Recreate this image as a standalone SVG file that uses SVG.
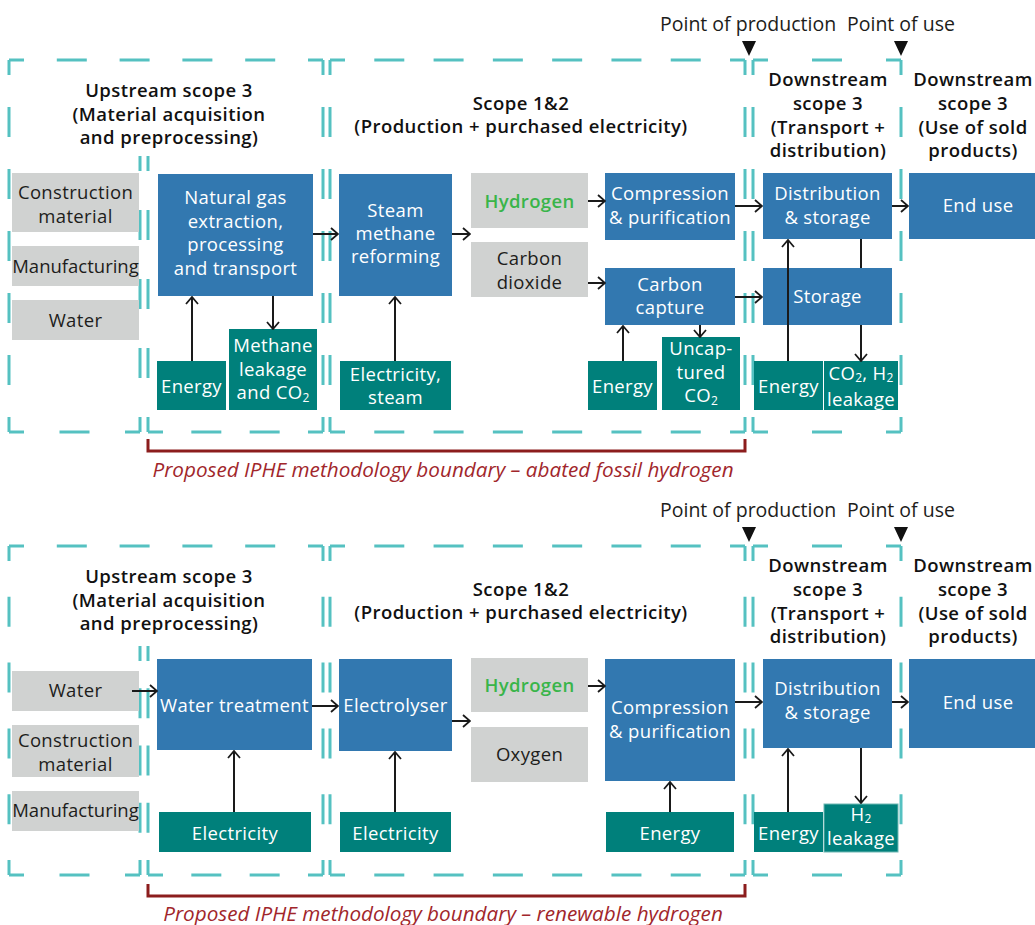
<svg xmlns="http://www.w3.org/2000/svg" width="1035" height="925" viewBox="0 0 1035 925">
<defs>
<style>
.bl{fill:#3278b0}
.tl{fill:#00807b}
.gr{fill:#d0d2d1}
.t{font-family:"Open Sans","Liberation Sans",sans-serif;font-size:18.5px;letter-spacing:0.35px;text-anchor:middle}
.m{letter-spacing:0px}
.w{fill:#ffffff}
.k{fill:#1d1d1b}
.h{font-family:"Open Sans","Liberation Sans",sans-serif;font-size:18.5px;letter-spacing:0.45px;font-weight:600;text-anchor:middle;fill:#111}
.hg{fill:#39b54a;font-weight:600}
.pt{font-family:"Open Sans","Liberation Sans",sans-serif;font-size:19.5px;fill:#1d1d1b}
.sub{font-size:12px;letter-spacing:0px}
.d{stroke:#55c1c1;stroke-width:3;fill:none;stroke-dashoffset:15}
.c{stroke:#1a1a1a;stroke-width:2;fill:none}
.ca{stroke:#1a1a1a;stroke-width:2;fill:none;marker-end:url(#ah)}
.br{stroke:#8c1d1d;stroke-width:3;fill:none}
.bt{font-family:"Open Sans","Liberation Sans",sans-serif;font-size:20.7px;font-style:italic;fill:#a1262b;text-anchor:middle}
</style>
<marker id="ah" viewBox="0 0 10 14" refX="9" refY="7" markerWidth="10" markerHeight="14" orient="auto" markerUnits="userSpaceOnUse">
<path d="M2,1 L9,7 L2,13" fill="none" stroke="#1a1a1a" stroke-width="1.8"/>
</marker>
</defs>
<rect width="1035" height="925" fill="#ffffff"/>

<!-- ===== Boundaries top ===== -->
<g id="boundaries-top">
<line class="d" x1="9" y1="60" x2="323" y2="60" stroke-dasharray="30 32.8"/>
<line class="d" x1="9" y1="60" x2="9" y2="432" stroke-dasharray="30 32"/>
<line class="d" x1="323" y1="60" x2="323" y2="432" stroke-dasharray="30 32"/>
<line class="d" x1="9" y1="432" x2="140" y2="432" stroke-dasharray="30 35.5"/>
<line class="d" x1="140" y1="156" x2="140" y2="432" stroke-dasharray="30 39"/>
<line class="d" x1="148" y1="156" x2="148" y2="432" stroke-dasharray="30 39"/>
<line class="d" x1="148" y1="432" x2="323" y2="432" stroke-dasharray="30 28.33"/>
<line class="d" x1="330" y1="60" x2="745" y2="60" stroke-dasharray="30 29.29"/>
<line class="d" x1="330" y1="60" x2="330" y2="432" stroke-dasharray="30 32"/>
<line class="d" x1="745" y1="60" x2="745" y2="432" stroke-dasharray="30 32"/>
<line class="d" x1="330" y1="432" x2="745" y2="432" stroke-dasharray="30 29.29"/>
<line class="d" x1="753" y1="60" x2="901" y2="60" stroke-dasharray="30 44"/>
<line class="d" x1="753" y1="60" x2="753" y2="432" stroke-dasharray="30 32"/>
<line class="d" x1="901" y1="60" x2="901" y2="432" stroke-dasharray="30 32"/>
<line class="d" x1="753" y1="432" x2="901" y2="432" stroke-dasharray="30 44"/>
</g>

<!-- ===== Boundaries bottom ===== -->
<g id="boundaries-bottom">
<line class="d" x1="9" y1="546" x2="323" y2="546" stroke-dasharray="30 32.8"/>
<line class="d" x1="9" y1="546" x2="9" y2="875" stroke-dasharray="30 35.8"/>
<line class="d" x1="323" y1="546" x2="323" y2="875" stroke-dasharray="30 35.8"/>
<line class="d" x1="9" y1="875" x2="140" y2="875" stroke-dasharray="30 35.5"/>
<line class="d" x1="140" y1="646" x2="140" y2="875" stroke-dasharray="30 27.25"/>
<line class="d" x1="148" y1="646" x2="148" y2="875" stroke-dasharray="30 27.25"/>
<line class="d" x1="148" y1="875" x2="323" y2="875" stroke-dasharray="30 28.33"/>
<line class="d" x1="330" y1="546" x2="745" y2="546" stroke-dasharray="30 29.29"/>
<line class="d" x1="330" y1="546" x2="330" y2="875" stroke-dasharray="30 35.8"/>
<line class="d" x1="745" y1="546" x2="745" y2="875" stroke-dasharray="30 35.8"/>
<line class="d" x1="330" y1="875" x2="745" y2="875" stroke-dasharray="30 29.29"/>
<line class="d" x1="753" y1="546" x2="901" y2="546" stroke-dasharray="30 44"/>
<line class="d" x1="753" y1="546" x2="753" y2="875" stroke-dasharray="30 35.8"/>
<line class="d" x1="901" y1="546" x2="901" y2="875" stroke-dasharray="30 35.8"/>
<line class="d" x1="753" y1="875" x2="901" y2="875" stroke-dasharray="30 44"/>
</g>

<!-- ===== Headers top ===== -->
<g id="headers-top">
<text class="pt" x="660" y="31">Point of production</text>
<text class="pt" x="847" y="31">Point of use</text>
<polygon points="742,41 756,41 749,56" fill="#111"/>
<polygon points="894,41 908,41 901,56" fill="#111"/>
<text class="h" x="169" y="97">Upstream scope 3</text>
<text class="h" x="169" y="120.5">(Material acquisition</text>
<text class="h" x="169" y="144">and preprocessing)</text>
<text class="h" x="521" y="110">Scope 1&amp;2</text>
<text class="h" x="521" y="133">(Production + purchased electricity)</text>
<text class="h" x="828" y="86">Downstream</text>
<text class="h" x="828" y="110">scope 3</text>
<text class="h" x="828" y="133.5">(Transport +</text>
<text class="h" x="828" y="157">distribution)</text>
<text class="h" x="973" y="86">Downstream</text>
<text class="h" x="973" y="110">scope 3</text>
<text class="h" x="973" y="133.5">(Use of sold</text>
<text class="h" x="973" y="157">products)</text>
</g>

<!-- ===== Headers bottom ===== -->
<g id="headers-bottom">
<text class="pt" x="660" y="517">Point of production</text>
<text class="pt" x="847" y="517">Point of use</text>
<polygon points="742,527 756,527 749,542" fill="#111"/>
<polygon points="894,527 908,527 901,542" fill="#111"/>
<text class="h" x="169" y="583">Upstream scope 3</text>
<text class="h" x="169" y="606.5">(Material acquisition</text>
<text class="h" x="169" y="630">and preprocessing)</text>
<text class="h" x="521" y="596">Scope 1&amp;2</text>
<text class="h" x="521" y="619">(Production + purchased electricity)</text>
<text class="h" x="828" y="572">Downstream</text>
<text class="h" x="828" y="596">scope 3</text>
<text class="h" x="828" y="619.5">(Transport +</text>
<text class="h" x="828" y="643">distribution)</text>
<text class="h" x="973" y="572">Downstream</text>
<text class="h" x="973" y="596">scope 3</text>
<text class="h" x="973" y="619.5">(Use of sold</text>
<text class="h" x="973" y="643">products)</text>
</g>

<!-- ===== Top panel nodes ===== -->
<g id="t-construction"><rect class="gr" x="12" y="173" width="127" height="59"/><text class="t k" x="75.5" y="199">Construction</text><text class="t k" x="75.5" y="223">material</text></g>
<g id="t-manufacturing"><rect class="gr" x="12" y="246" width="127" height="40"/><text class="t k m" x="75.5" y="273">Manufacturing</text></g>
<g id="t-water"><rect class="gr" x="12" y="300" width="127" height="40"/><text class="t k" x="75.5" y="327">Water</text></g>
<g id="t-natgas"><rect class="bl" x="158" y="174" width="155" height="122"/><text class="t w" x="235.5" y="204">Natural gas</text><text class="t w" x="235.5" y="227.5">extraction,</text><text class="t w" x="235.5" y="251">processing</text><text class="t w" x="235.5" y="274.5">and transport</text></g>
<g id="t-smr"><rect class="bl" x="339" y="174" width="113" height="122"/><text class="t w" x="395.5" y="217">Steam</text><text class="t w" x="395.5" y="240">methane</text><text class="t w" x="395.5" y="263">reforming</text></g>
<g id="t-hydrogen"><rect class="gr" x="471" y="173" width="117" height="55"/><text class="t hg" x="529.5" y="208">Hydrogen</text></g>
<g id="t-co2"><rect class="gr" x="471" y="242" width="117" height="55"/><text class="t k" x="529.5" y="265">Carbon</text><text class="t k" x="529.5" y="289">dioxide</text></g>
<g id="t-compression"><rect class="bl" x="605" y="173" width="130" height="67"/><text class="t w" x="670" y="200">Compression</text><text class="t w" x="670" y="224">&amp; purification</text></g>
<g id="t-capture"><rect class="bl" x="605" y="268" width="130" height="57"/><text class="t w" x="670" y="291">Carbon</text><text class="t w" x="670" y="314">capture</text></g>
<g id="t-distribution"><rect class="bl" x="763" y="173" width="129" height="66"/><text class="t w" x="827.5" y="200">Distribution</text><text class="t w" x="827.5" y="224">&amp; storage</text></g>
<g id="t-enduse"><rect class="bl" x="909" y="173" width="126" height="66"/><text class="t w" x="978" y="212">End use</text></g>
<g id="t-storage"><rect class="bl" x="763" y="268" width="129" height="57"/><text class="t w" x="827.5" y="303">Storage</text></g>
<g id="t-energy-ng"><rect class="tl" x="157" y="361" width="69" height="49"/><text class="t w" x="191.5" y="393">Energy</text></g>
<g id="t-methane"><rect class="tl" x="229" y="329" width="88" height="81"/><text class="t w" x="273" y="352">Methane</text><text class="t w" x="273" y="375.5">leakage</text><text class="t w" x="273" y="399">and CO<tspan class="sub" dy="2.5">2</tspan></text></g>
<g id="t-elecsteam"><rect class="tl" x="340" y="361" width="111" height="49"/><text class="t w" x="395.5" y="381">Electricity,</text><text class="t w" x="395.5" y="404">steam</text></g>
<g id="t-energy-cc"><rect class="tl" x="588" y="361" width="69" height="49"/><text class="t w" x="622.5" y="393">Energy</text></g>
<g id="t-uncaptured"><rect class="tl" x="662" y="337" width="78" height="73"/><text class="t w" x="701" y="355">Uncap-</text><text class="t w" x="701" y="378.5">tured</text><text class="t w" x="701" y="402">CO<tspan class="sub" dy="2.5">2</tspan></text></g>
<g id="t-energy-ds"><rect class="tl" x="754" y="361" width="69" height="49"/><text class="t w" x="788.5" y="393">Energy</text></g>
<g id="t-leakage"><rect class="tl" x="824" y="361" width="74" height="49"/><text class="t w" x="861" y="380">CO<tspan class="sub" dy="2">2</tspan><tspan dy="-2">, H</tspan><tspan class="sub" dy="2">2</tspan></text><text class="t w" x="861" y="405.5">leakage</text></g>

<!-- ===== Bottom panel nodes ===== -->
<g id="b-water"><rect class="gr" x="12" y="671" width="127" height="40"/><text class="t k" x="75.5" y="697">Water</text></g>
<g id="b-construction"><rect class="gr" x="12" y="725" width="127" height="52"/><text class="t k" x="75.5" y="747">Construction</text><text class="t k" x="75.5" y="771">material</text></g>
<g id="b-manufacturing"><rect class="gr" x="12" y="791" width="127" height="40"/><text class="t k m" x="75.5" y="817">Manufacturing</text></g>
<g id="b-watertreatment"><rect class="bl" x="157" y="659" width="155" height="91"/><text class="t w" x="234.5" y="712">Water treatment</text></g>
<g id="b-elec-wt"><rect class="tl" x="159" y="812" width="152" height="40"/><text class="t w" x="235" y="840">Electricity</text></g>
<g id="b-electrolyser"><rect class="bl" x="339" y="659" width="113" height="92"/><text class="t w" x="395.5" y="712">Electrolyser</text></g>
<g id="b-elec-el"><rect class="tl" x="340" y="812" width="111" height="40"/><text class="t w" x="395.5" y="840">Electricity</text></g>
<g id="b-hydrogen"><rect class="gr" x="471" y="658" width="117" height="54"/><text class="t hg" x="529.5" y="692">Hydrogen</text></g>
<g id="b-oxygen"><rect class="gr" x="471" y="727" width="117" height="55"/><text class="t k" x="529.5" y="761">Oxygen</text></g>
<g id="b-compression"><rect class="bl" x="605" y="659" width="130" height="122"/><text class="t w" x="670" y="714">Compression</text><text class="t w" x="670" y="738">&amp; purification</text></g>
<g id="b-energy-comp"><rect class="tl" x="606" y="812" width="128" height="40"/><text class="t w" x="670" y="840">Energy</text></g>
<g id="b-distribution"><rect class="bl" x="763" y="659" width="129" height="89"/><text class="t w" x="827.5" y="695">Distribution</text><text class="t w" x="827.5" y="719">&amp; storage</text></g>
<g id="b-enduse"><rect class="bl" x="909" y="659" width="126" height="89"/><text class="t w" x="978" y="709">End use</text></g>
<g id="b-energy-ds"><rect class="tl" x="754" y="812" width="69" height="40"/><text class="t w" x="788.5" y="840">Energy</text></g>
<g id="b-leakage"><rect class="tl" x="824" y="804" width="74" height="48" stroke="#6fb8b4" stroke-width="1"/><text class="t w" x="861" y="820.5">H<tspan class="sub" dy="2.5">2</tspan></text><text class="t w" x="861" y="845">leakage</text></g>

<!-- ===== Connectors ===== -->
<g id="connectors">
<line class="ca" x1="313" y1="234" x2="338" y2="234"/>
<line class="ca" x1="452" y1="234" x2="470" y2="234"/>
<line class="ca" x1="588" y1="201" x2="605" y2="201"/>
<line class="ca" x1="588" y1="283" x2="605" y2="283"/>
<line class="ca" x1="735" y1="206" x2="762" y2="206"/>
<line class="ca" x1="892" y1="206" x2="908" y2="206"/>
<line class="ca" x1="735" y1="297" x2="762" y2="297"/>
<line class="ca" x1="192" y1="361" x2="192" y2="297"/>
<line class="ca" x1="273" y1="296" x2="273" y2="329"/>
<line class="ca" x1="395" y1="361" x2="395" y2="297"/>
<line class="ca" x1="623" y1="361" x2="623" y2="326"/>
<line class="ca" x1="700" y1="325" x2="700" y2="337"/>
<line class="ca" x1="788" y1="361" x2="788" y2="240"/>
<line class="c" x1="861" y1="239" x2="861" y2="268"/>
<line class="ca" x1="861" y1="325" x2="861" y2="361"/>

<line class="ca" x1="132" y1="691" x2="157" y2="691"/>
<line class="ca" x1="312" y1="706" x2="338" y2="706"/>
<line class="ca" x1="452" y1="721" x2="470" y2="721"/>
<line class="ca" x1="588" y1="686" x2="605" y2="686"/>
<line class="ca" x1="735" y1="702" x2="762" y2="702"/>
<line class="ca" x1="892" y1="702" x2="908" y2="702"/>
<line class="ca" x1="234" y1="812" x2="234" y2="751"/>
<line class="ca" x1="395" y1="812" x2="395" y2="752"/>
<line class="ca" x1="670" y1="812" x2="670" y2="782"/>
<line class="ca" x1="788" y1="812" x2="788" y2="749"/>
<line class="ca" x1="861" y1="748" x2="861" y2="803"/>
</g>

<!-- ===== Methodology boundaries ===== -->
<g id="boundary-top">
<polyline class="br" points="148,439 148,451 745,451 745,439"/>
<text class="bt" x="443" y="477">Proposed IPHE methodology boundary – abated fossil hydrogen</text>
</g>
<g id="boundary-bottom">
<polyline class="br" points="148,884 148,896 745,896 745,884"/>
<text class="bt" x="443" y="921">Proposed IPHE methodology boundary – renewable hydrogen</text>
</g>
</svg>
